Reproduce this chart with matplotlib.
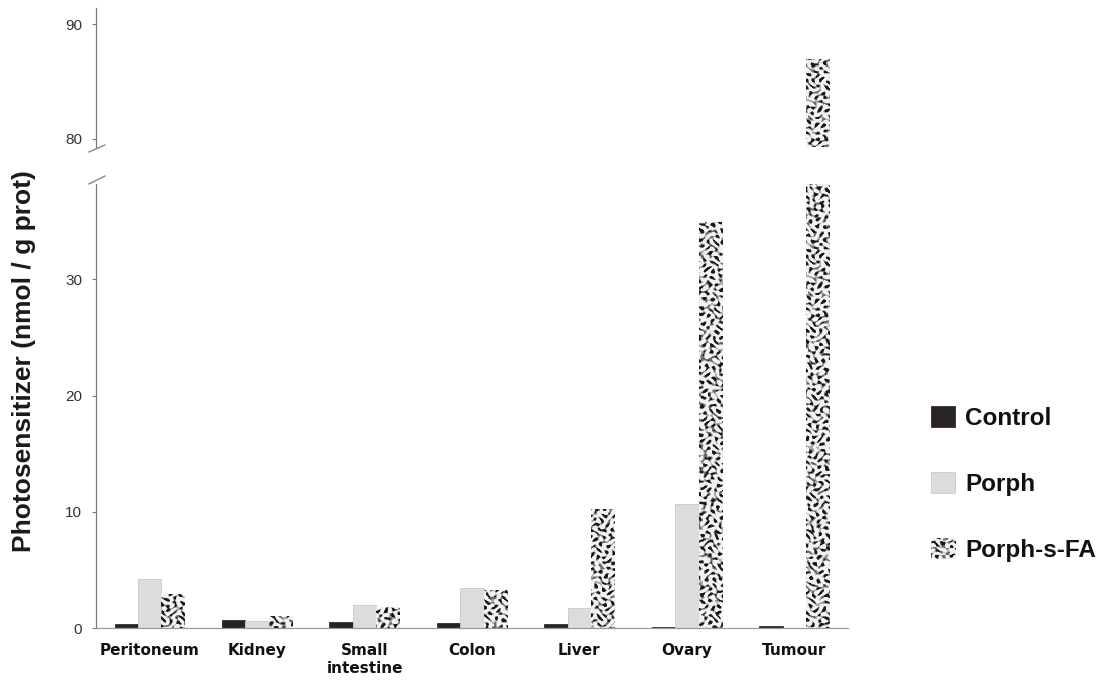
import numpy as np
import matplotlib
matplotlib.use('Agg')
import matplotlib.pyplot as plt
from matplotlib.legend_handler import HandlerBase
from matplotlib.image import BboxImage
from matplotlib.transforms import Bbox, TransformedBbox
from matplotlib.patches import Rectangle

# ---------------- data ----------------
categories = ['Peritoneum', 'Kidney', 'Small\nintestine', 'Colon', 'Liver', 'Ovary', 'Tumour']
control = [0.37, 0.72, 0.49, 0.45, 0.34, 0.06, 0.20]
porph = [4.2, 0.57, 2.0, 3.45, 1.7, 10.7, 0.0]
porph_fa = [2.9, 1.0, 1.8, 3.3, 10.2, 34.9, 87.0]
series_names = ['Control', 'Porph', 'Porph-s-FA']
top_ticks = [80, 90]
bottom_ticks = [0, 10, 20, 30]
top_ylim = (79.3, 91.4)
bottom_ylim = (0, 38.2)
ylabel = 'Photosensitizer (nmol / g prot)'

# ---------------- style ----------------
C_CONTROL = '#2a2326'
C_PORPH = '#dcdcdc'
SPINE = '#7a7a7a'

# plane-wave parameters of the decorative fill pattern (style only)
_ANG = [0.30, 1.10, 1.90, 2.60, 0.72, 2.25, 1.45, 3.00]
_FRQ = [0.95, 1.05, 0.88, 1.12, 0.80, 0.98, 1.20, 0.90]
_PHS = [0.0, 1.3, 2.1, 0.7, 2.9, 4.1, 5.2, 3.6]


def texture(h, w):
    """Deterministic squiggly black/grey/white fill pattern."""
    yy, xx = np.mgrid[0:h, 0:w].astype(float)
    xw = xx + 1.6 * np.sin(yy * 0.37)
    yw = yy + 1.6 * np.sin(xx * 0.33)
    t = np.zeros((h, w))
    for a, f, p in zip(_ANG, _FRQ, _PHS):
        t += np.cos(f * (xw * np.cos(a) + yw * np.sin(a)) + p)
    img = np.full((h, w, 3), 0.95)
    img[t > 0.1] = 0.68
    img[t > 1.0] = 0.42
    img[t > 2.0] = 0.10
    return img


W, H = 1109, 686
fig = plt.figure(figsize=(W / 100, H / 100), dpi=100)
fig.patch.set_facecolor('white')

left = 96 / W
width = (848 - 96) / W
ax_top = fig.add_axes([left, (H - 147) / H, width, 139 / H])
ax_bot = fig.add_axes([left, (H - 628) / H, width, 444 / H])

x = np.arange(len(categories))
bw = 0.218

for ax, ylim, ticks in ((ax_top, top_ylim, top_ticks), (ax_bot, bottom_ylim, bottom_ticks)):
    ax.bar(x - bw, control, bw, color=C_CONTROL, edgecolor='#1c1c1c', linewidth=0.5)
    ax.bar(x, porph, bw, color=C_PORPH, edgecolor='#c9c9c9', linewidth=0.6)
    fa_bars = ax.bar(x + bw, porph_fa, bw, color='white', edgecolor='none')
    ax.set_xlim(-0.5, 6.5)
    ax.set_ylim(*ylim)
    ax.set_yticks(ticks)
    for s in ('top', 'right'):
        ax.spines[s].set_visible(False)
    ax.spines['left'].set_color(SPINE)
    ax.spines['left'].set_linewidth(0.9)
    ax.tick_params(axis='y', length=3, width=0.8, color=SPINE, labelsize=11,
                   labelcolor='#333333', pad=7)
    for lab in ax.get_yticklabels():
        lab.set_family('Liberation Sans')
    # textured fill for Porph-s-FA bars
    bb = ax.get_window_extent()
    tex = texture(int(round(bb.height)), int(round(bb.width)))
    xl, yl = ax.get_xlim(), ax.get_ylim()
    for bar in fa_bars:
        im = ax.imshow(tex, extent=(xl[0], xl[1], yl[0], yl[1]), aspect='auto',
                       interpolation='nearest', zorder=bar.get_zorder() + 0.1)
        im.set_clip_path(bar)
    ax.set_xlim(*xl)
    ax.set_ylim(*yl)

# top axis: no x axis
ax_top.spines['bottom'].set_visible(False)
ax_top.tick_params(axis='x', which='both', bottom=False, labelbottom=False)

# bottom axis: category labels
ax_bot.spines['bottom'].set_color('#9a9a9a')
ax_bot.spines['bottom'].set_linewidth(0.9)
ax_bot.set_xticks(x)
ax_bot.set_xticklabels(categories, fontsize=11, fontweight='bold', family='DejaVu Sans',
                       color='#111111')
ax_bot.tick_params(axis='x', length=0, pad=11)

# axis break marks
ax_bot.plot([-0.0095, 0.0118], [1.0, 1.018], transform=ax_bot.transAxes,
            color=SPINE, lw=0.9, clip_on=False)
ax_top.plot([-0.0095, 0.0118], [-0.036, 0.014], transform=ax_top.transAxes,
            color=SPINE, lw=0.9, clip_on=False)

# y label
fig.text(24 / W, (H - 361) / H, ylabel, rotation=90, ha='center', va='center',
         fontsize=19, fontweight='bold', family='Liberation Sans', color='#1a1a1a')


# legend with textured handle
class TexHandler(HandlerBase):
    def create_artists(self, legend, orig_handle, xdescent, ydescent, width, height,
                       fontsize, trans):
        bbox = TransformedBbox(Bbox.from_bounds(-xdescent, -ydescent, width, height), trans)
        im = BboxImage(bbox, interpolation='nearest')
        im.set_data(texture(24, 24))
        return [im]


h_control = Rectangle((0, 0), 1, 1, facecolor=C_CONTROL, edgecolor='#1c1c1c', linewidth=0.5)
h_porph = Rectangle((0, 0), 1, 1, facecolor=C_PORPH, edgecolor='#c9c9c9', linewidth=0.6)
h_fa = Rectangle((0, 0), 1, 1, facecolor='white', edgecolor='none')
leg = fig.legend([h_control, h_porph, h_fa], series_names,
                 handler_map={h_fa: TexHandler()},
                 loc='center left', bbox_to_anchor=(931 / W, (H - 484) / H),
                 frameon=False, borderpad=0, borderaxespad=0,
                 handlelength=1.0, handleheight=0.95, handletextpad=0.4,
                 labelspacing=1.75,
                 prop={'family': 'Liberation Sans', 'weight': 'bold', 'size': 17.5})
for t in leg.get_texts():
    t.set_color('#111111')

fig.savefig('out.png', dpi=100, facecolor='white')
